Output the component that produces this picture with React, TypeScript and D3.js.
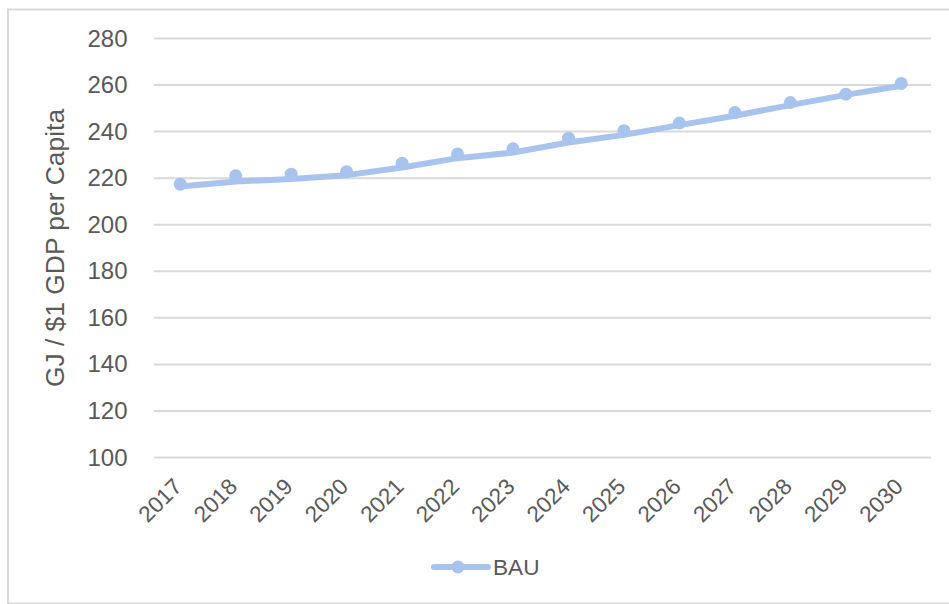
import React from "react";
import * as d3 from "d3";

const years = ["2017","2018","2019","2020","2021","2022","2023","2024","2025","2026","2027","2028","2029","2030"];
const bauMarkers = [217.4, 221.0, 221.7, 222.8, 226.4, 230.4, 232.6, 237.2, 240.4, 243.7, 248.2, 252.5, 256.1, 260.7];
const bauLine = [216.4, 218.6, 219.6, 221.3, 224.6, 228.6, 231.0, 235.3, 238.6, 242.8, 246.8, 251.4, 255.8, 259.7];
const yTicks = [100, 120, 140, 160, 180, 200, 220, 240, 260, 280];
const yTitle = "GJ / $1 GDP per Capita";
const seriesName = "BAU";

const W = 949;
const H = 604;
const plotLeft = 152.5;
const plotRight = 929;
const plotTop = 38.5;
const plotBottom = 457.5;
const color = "#A8C4EE";
const textColor = "#595959";
const grid = "#D9D9D9";
const font = "'Liberation Sans', Arial, sans-serif";

export default function App() {
  const x = d3.scaleBand<string>().domain(years).range([plotLeft, plotRight]);
  const cx = (yr: string) => (x(yr) as number) + x.bandwidth() / 2;
  const y = d3.scaleLinear().domain([100, 280]).range([plotBottom, plotTop]);
  const line = d3
    .line<number>()
    .x((_, i) => cx(years[i]))
    .y((d) => y(d));

  return (
    <svg
      width={W}
      height={H}
      style={{ position: "absolute", left: 0, top: 0, background: "#fff", fontFamily: font }}
    >
      <rect x={0} y={0} width={W} height={H} fill="#fff" />
      <rect x={8} y={9.5} width={960} height={594} fill="none" stroke={grid} strokeWidth={2} />
      {yTicks.map((t) => (
        <g key={t}>
          <line x1={plotLeft + 1.5} x2={plotRight + 2} y1={y(t)} y2={y(t)} stroke={grid} strokeWidth={2} />
          <text x={127.5} y={y(t) + 8} textAnchor="end" fontSize={24} fill={textColor}>
            {t}
          </text>
        </g>
      ))}
      <text
        transform={`translate(64,${(plotTop + plotBottom) / 2}) rotate(-90)`}
        textAnchor="middle"
        fontSize={26.4}
        fill={textColor}
      >
        {yTitle}
      </text>
      {years.map((yr) => (
        <text
          key={yr}
          transform={`translate(${cx(yr) + 3},488) rotate(-45)`}
          textAnchor="end"
          fontSize={22.5}
          fill={textColor}
        >
          {yr}
        </text>
      ))}
      <path d={line(bauLine) || ""} fill="none" stroke={color} strokeWidth={6} strokeLinejoin="round" strokeLinecap="round" />
      {bauMarkers.map((v, i) => (
        <circle key={i} cx={cx(years[i])} cy={y(v)} r={6.5} fill={color} />
      ))}
      <line x1={434} x2={488} y1={567} y2={567} stroke={color} strokeWidth={6} strokeLinecap="round" />
      <circle cx={458} cy={567} r={6.5} fill={color} />
      <text x={493} y={575} fontSize={22.6} fill={textColor}>
        {seriesName}
      </text>
    </svg>
  );
}
